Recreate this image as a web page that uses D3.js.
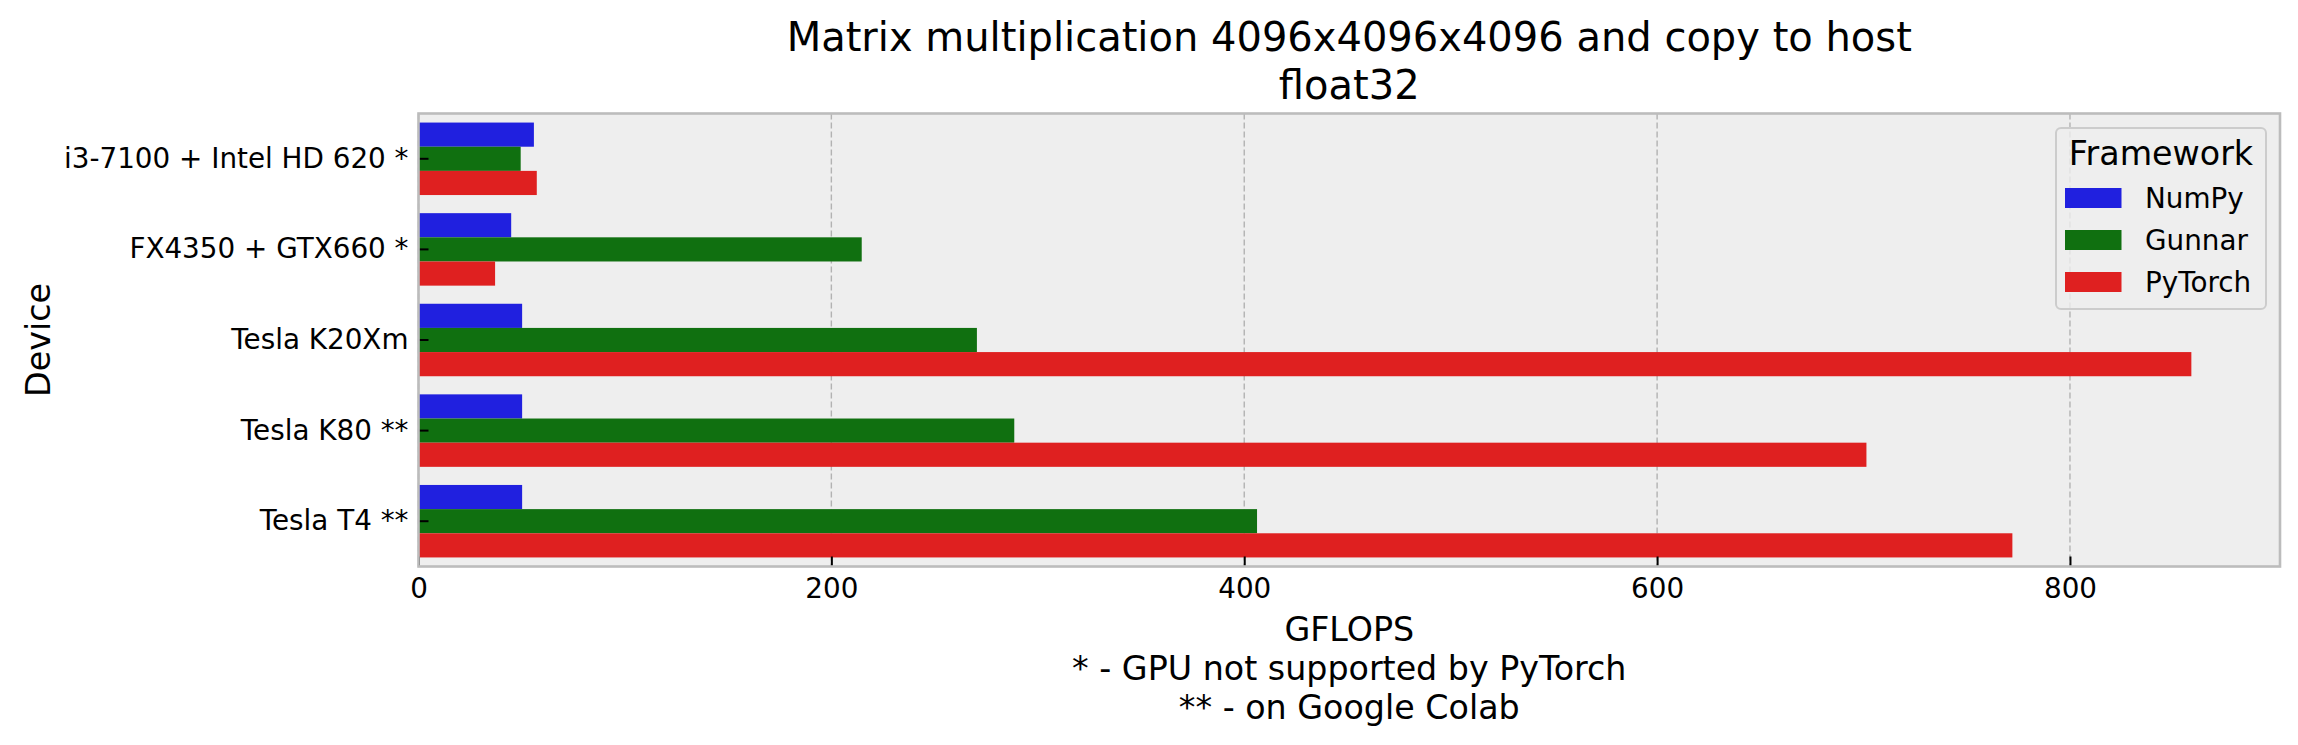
<!DOCTYPE html>
<html><head><meta charset="utf-8">
<script src="https://cdn.jsdelivr.net/npm/d3@7"></script>
<style>
html,body{margin:0;padding:0;background:#fff;}
svg{display:block;font-family:"DejaVu Sans",sans-serif;}
</style></head>
<body>
<svg id="chart" width="2298" height="745"></svg>
<script>
const devices = ["i3-7100 + Intel HD 620 *", "FX4350 + GTX660 *", "Tesla K20Xm", "Tesla K80 **", "Tesla T4 **"];
const frameworks = ["NumPy", "Gunnar", "PyTorch"];
const numpyVals = [55.9, 44.9, 50.2, 50.2, 50.2];
const gunnarVals = [49.5, 214.7, 270.5, 288.6, 406.2];
const pytorchVals = [57.3, 37.1, 858.8, 701.4, 772.1];
const xTicks = [0, 200, 400, 600, 800];
const colors = ["#2020df", "#107010", "#df2020"];
const titleLines = ["Matrix multiplication 4096x4096x4096 and copy to host", "float32"];
const xLabelLines = ["GFLOPS", "* - GPU not supported by PyTorch", "** - on Google Colab"];

const series = [numpyVals, gunnarVals, pytorchVals];
const svg = d3.select("#chart");
const m = {left: 418.5, right: 2280, top: 113.5, bottom: 566.5};
const xMax = d3.max(series.flat()) * 1.05;
const x = d3.scaleLinear().domain([0, xMax]).range([m.left, m.right]);
const y = d3.scaleBand().domain(devices).range([m.top, m.bottom]).paddingInner(0.2).paddingOuter(0.1);
const ySub = d3.scaleBand().domain(frameworks).range([0, y.bandwidth()]);

// background
svg.append("rect").attr("x", m.left).attr("y", m.top).attr("width", m.right - m.left).attr("height", m.bottom - m.top).attr("fill", "#eeeeee");

// grid
svg.append("g").selectAll("line").data(xTicks).join("line")
  .attr("x1", d => x(d)).attr("x2", d => x(d)).attr("y1", m.top).attr("y2", m.bottom)
  .attr("stroke", "#b2b2b2").attr("stroke-width", 1.4).attr("stroke-dasharray", "6,3");

// bars
frameworks.forEach((f, fi) => {
  svg.append("g").selectAll("rect").data(devices).join("rect")
    .attr("x", x(0))
    .attr("y", d => y(d) + ySub(f))
    .attr("width", (d, i) => x(series[fi][i]) - x(0))
    .attr("height", ySub.bandwidth())
    .attr("fill", colors[fi]);
});

// axes
const xAxis = d3.axisBottom(x).tickValues(xTicks).tickSize(-10).tickPadding(12).tickFormat(d3.format("d"));
const gx = svg.append("g").attr("transform", `translate(0,${m.bottom})`).call(xAxis);
gx.select(".domain").remove();
gx.selectAll(".tick line").attr("stroke", "#000").attr("stroke-width", 2);
gx.selectAll(".tick text").attr("font-size", 27.8).attr("fill", "#000").attr("font-family", "DejaVu Sans").attr("dy", "0.71em");

const yAxis = d3.axisLeft(y).tickSize(-10).tickPadding(10);
const gy = svg.append("g").attr("transform", `translate(${m.left},0)`).call(yAxis);
gy.select(".domain").remove();
gy.selectAll(".tick line").attr("stroke", "#000").attr("stroke-width", 2);
gy.selectAll(".tick text").attr("font-size", 27.8).attr("fill", "#000").attr("font-family", "DejaVu Sans");

// frame
svg.append("rect").attr("x", m.left).attr("y", m.top).attr("width", m.right - m.left).attr("height", m.bottom - m.top)
  .attr("fill", "none").attr("stroke", "#bcbcbc").attr("stroke-width", 2.6);

// title
const cx = (m.left + m.right) / 2;
svg.append("g").selectAll("text").data(titleLines).join("text")
  .attr("x", cx).attr("y", (d, i) => 51 + i * 47.5)
  .attr("text-anchor", "middle").attr("font-size", 40).attr("fill", "#000").text(d => d);

// x label
svg.append("g").selectAll("text").data(xLabelLines).join("text")
  .attr("x", cx).attr("y", (d, i) => 641 + i * 39)
  .attr("text-anchor", "middle").attr("font-size", 33.3).attr("fill", "#000").text(d => d);

// y label
svg.append("text").attr("transform", `translate(50,${(m.top + m.bottom) / 2}) rotate(-90)`)
  .attr("text-anchor", "middle").attr("font-size", 33.3).attr("fill", "#000").text("Device");

// legend
const lg = svg.append("g");
lg.append("rect").attr("x", 2056).attr("y", 128).attr("width", 210).attr("height", 181).attr("rx", 5)
  .attr("fill", "#eeeeee").attr("fill-opacity", 0.8).attr("stroke", "#cccccc").attr("stroke-width", 2);
lg.append("text").attr("x", 2161).attr("y", 165).attr("text-anchor", "middle").attr("font-size", 33.3).attr("fill", "#000").text("Framework");
frameworks.forEach((f, i) => {
  lg.append("rect").attr("x", 2065).attr("y", 188 + i * 42).attr("width", 56.5).attr("height", 20).attr("fill", colors[i]);
  lg.append("text").attr("x", 2145).attr("y", 208 + i * 42).attr("font-size", 27.8).attr("fill", "#000").text(f);
});
</script>
</body></html>
